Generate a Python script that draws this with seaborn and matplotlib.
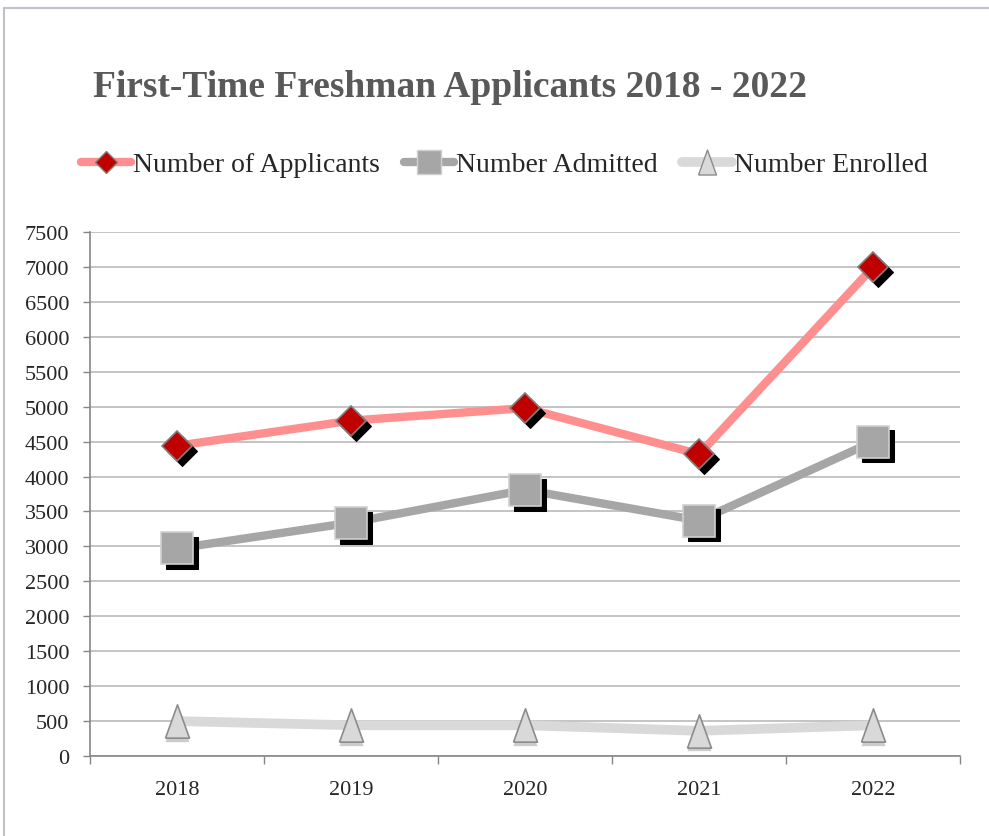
import numpy as np
import pandas as pd
import matplotlib
matplotlib.use("Agg")
import matplotlib.pyplot as plt
import matplotlib.transforms as mtransforms
from matplotlib.lines import Line2D
import seaborn as sns

# chart data
years = [2018, 2019, 2020, 2021, 2022]
applicants = [4440, 4800, 4980, 4320, 7000]
admitted = [2970, 3340, 3810, 3370, 4500]
enrolled = [500, 440, 440, 360, 440]
y_ticks = list(range(0, 7501, 500))

sns.set_style("white")
serif = ['Liberation Serif', 'DejaVu Serif']
plt.rcParams['font.family'] = serif
plt.rcParams['font.serif'] = serif

fig = plt.figure(figsize=(9.89, 8.37), dpi=100)
ax = fig.add_axes([0.091, 0.0956, 0.880, 0.626])

# narrow triangle like the original
tri = [(-0.36, -0.5), (0.36, -0.5), (0.0, 0.5), (-0.36, -0.5)]

series = [
    ("Number of Applicants", applicants, "#FF8F8F", "D", 15, "#C00000", "#7F7F7F", 6),
    ("Number Admitted", admitted, "#A6A6A6", "s", 23, "#A6A6A6", "#D0D0D0", 6),
    ("Number Enrolled", enrolled, "#D9D9D9", tri, 24, "#D9D9D9", "#8C8C8C", 7),
]

shadow = mtransforms.offset_copy(ax.transData, fig=fig, x=3.5, y=-3.5, units='points')
soft = mtransforms.offset_copy(ax.transData, fig=fig, x=0, y=-2.5, units='points')

df = pd.DataFrame({"year": years})
for name, vals, lc, mk, ms, mfc, mec, lw in series:
    df[name] = vals
    sns.lineplot(data=df, x="year", y=name, ax=ax, color=lc, linewidth=lw,
                 zorder=2, solid_capstyle='butt')
for name, vals, lc, mk, ms, mfc, mec, lw in series:
    # marker shadow
    if name == "Number Enrolled":
        sns.lineplot(data=df, x="year", y=name, ax=ax, linestyle='none', marker=mk,
                     markersize=ms, markerfacecolor="#9A9A9A", markeredgecolor="none",
                     alpha=0.5, transform=soft, zorder=3)
    else:
        sns.lineplot(data=df, x="year", y=name, ax=ax, linestyle='none', marker=mk,
                     markersize=ms, markerfacecolor="black", markeredgecolor="black",
                     transform=shadow, zorder=3)
    sns.lineplot(data=df, x="year", y=name, ax=ax, linestyle='none', marker=mk,
                 markersize=ms, markerfacecolor=mfc, markeredgecolor=mec,
                 markeredgewidth=1.2, zorder=4)

ax.set_xlim(2017.5, 2022.5)
ax.set_ylim(0, 7500)
ax.set_yticks(y_ticks, labels=[str(v) for v in y_ticks], fontfamily=serif, fontsize=16)
ax.set_xticks(years, labels=[str(v) for v in years], fontfamily=serif, fontsize=16)
ax.set_xticks(np.arange(2017.5, 2023, 1), minor=True)
ax.set_xlabel("")
ax.set_ylabel("")
ax.grid(axis='y', color="#BFBFBF", linewidth=1.3)
ax.set_axisbelow(True)
for s in ["top", "right"]:
    ax.spines[s].set_visible(False)
for s in ["left", "bottom"]:
    ax.spines[s].set_color("#868686")
    ax.spines[s].set_linewidth(1.2)
ax.tick_params(axis='y', which='major', left=True, length=5, width=1, color="#868686",
               pad=10)
ax.tick_params(axis='x', which='major', bottom=False, pad=14)
ax.tick_params(axis='x', which='minor', bottom=True, length=6, width=1, color="#868686")

handles = []
for name, vals, lc, mk, ms, mfc, mec, lw in series:
    handles.append(Line2D([0], [0], color=lc, linewidth=lw, marker=mk,
                          markersize=ms * 0.75, markerfacecolor=mfc,
                          markeredgecolor=mec, markeredgewidth=1))
fig.legend(handles, [s[0] for s in series], loc='center', bbox_to_anchor=(0.51, 0.802),
           ncol=3, frameon=False, handlelength=1.8, handletextpad=0.05,
           columnspacing=0.9, prop={'family': serif, 'size': 20})

fig.text(0.094, 0.895, "First-Time Freshman Applicants 2018 - 2022", fontsize=27,
         fontweight='bold', color="#595959", ha='left', va='center', fontfamily=serif)

# outer chart frame (top and left visible)
fig.add_artist(Line2D([0.004, 1.0], [0.989, 0.989], transform=fig.transFigure,
                      color="#C0C0C8", linewidth=1.5))
fig.add_artist(Line2D([0.004, 0.004], [0.0, 0.989], transform=fig.transFigure,
                      color="#C0C0C8", linewidth=1.5))

fig.savefig("out.png", dpi=100)
